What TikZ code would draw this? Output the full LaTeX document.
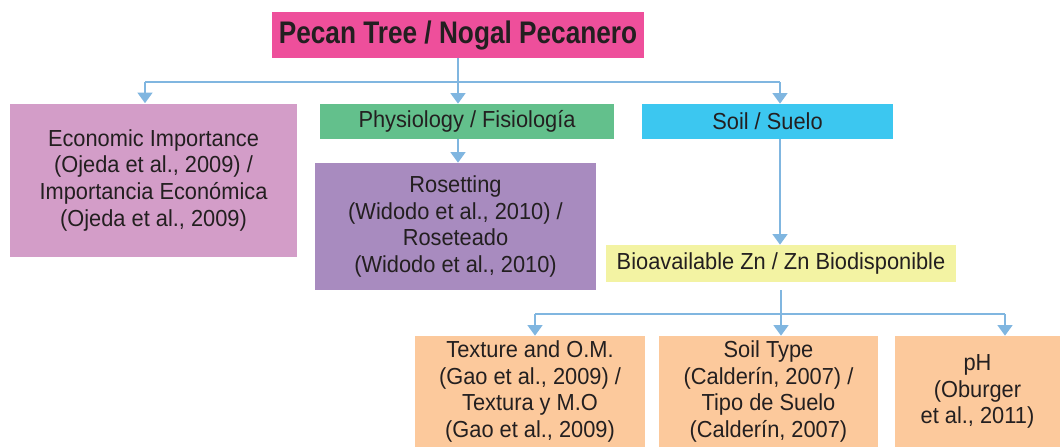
\documentclass[tikz,border=0pt]{standalone}
\usepackage{fontspec}
\setmainfont{Liberation Sans}[FakeStretch=0.94]
\newfontfamily\titlefont{Liberation Sans}[FakeStretch=0.84]
\usepackage{tikz}
\usetikzlibrary{arrows.meta}

\definecolor{titlepink}{HTML}{EE4F9B}
\definecolor{econpink}{HTML}{D39DC8}
\definecolor{physgreen}{HTML}{63C08C}
\definecolor{soilblue}{HTML}{3CC7F0}
\definecolor{rosepurple}{HTML}{A88BBF}
\definecolor{bioyellow}{HTML}{F3F3A3}
\definecolor{texorange}{HTML}{FCC99C}
\definecolor{linkblue}{HTML}{80B6E0}
\definecolor{ink}{HTML}{231F20}

\tikzset{
  cell/.style={inner sep=0pt, align=center, text=ink,
    font=\fontsize{17.4}{20}\selectfont},
  link/.style={draw=linkblue, line width=2.2pt},
  arr/.style={link, -{Triangle[width=11pt,length=8pt]}}
}

\begin{document}
\begin{tikzpicture}[x=0.75pt,y=-0.75pt]
		\useasboundingbox (0,0) rectangle (1060,447);
		\node[cell, fill=titlepink, minimum width=279pt, minimum height=34.5pt,
		  font=\titlefont\bfseries\fontsize{23.4}{26}\selectfont] (title) at (458,35) {Pecan Tree / Nogal Pecanero};
		\node[cell, fill=econpink, minimum width=215.25pt, minimum height=114.75pt] (econ) at (153.5,180)
		  {Economic Importance\\(Ojeda et al., 2009) /\\Importancia Económica\\(Ojeda et al., 2009)};
		\node[cell, fill=physgreen, minimum width=220.5pt, minimum height=26.25pt] (physio) at (467,121.5) {Physiology / Fisiología};
		\node[cell, fill=soilblue, minimum width=188.25pt, minimum height=26.25pt] (soil) at (767.5,121.5) {Soil / Suelo};
		\node[cell, fill=rosepurple, minimum width=210.75pt, minimum height=95.25pt] (roset) at (455.5,226.5)
		  {Rosetting\\(Widodo et al., 2010) /\\Roseteado\\(Widodo et al., 2010)};
		\node[cell, fill=bioyellow, minimum width=262.5pt, minimum height=27.75pt] (bio) at (781,263.5) {Bioavailable Zn / Zn Biodisponible};
		\node[cell, fill=texorange, minimum width=172.5pt, minimum height=83.25pt] (texture) at (530,391.5)
		  {Texture and O.M.\\(Gao et al., 2009) /\\Textura y M.O\\(Gao et al., 2009)};
		\node[cell, fill=texorange, minimum width=164.25pt, minimum height=83.25pt] (soiltype) at (768.5,391.5)
		  {Soil Type\\(Calderín, 2007) /\\Tipo de Suelo\\(Calderín, 2007)};
		\node[cell, fill=texorange, minimum width=123.75pt, minimum height=83.25pt] (ph) at (977.5,391.5)
		  {pH\\(Oburger\\et al., 2011)};

		% first level
		\coordinate (b1) at (145,82);
		\coordinate (b3) at (780,82);
		\draw[link] (title.south) -- (title.south |- b1);
		\draw[link] (b1) -- (b3);
		\draw[arr] (b1) -- (b1 |- econ.north);
		\draw[arr] (title.south |- b1) -- (title.south |- physio.north);
		\draw[arr] (b3) -- (b3 |- soil.north);
		\draw[arr] (title.south |- physio.south) -- (title.south |- roset.north);
		\draw[arr] (b3 |- soil.south) -- (b3 |- bio.north);

		% soil factors
		\coordinate (c1) at (535,314);
		\coordinate (c3) at (1005,314);
		\draw[link] ([yshift=-6pt]bio.south) -- (bio.south |- c1);
		\draw[link] (c1) -- (c3);
		\draw[arr] (c1) -- (c1 |- texture.north);
		\draw[arr] (bio.south |- c1) -- (bio.south |- soiltype.north);
		\draw[arr] (c3) -- (c3 |- ph.north);
\end{tikzpicture}
\end{document}
